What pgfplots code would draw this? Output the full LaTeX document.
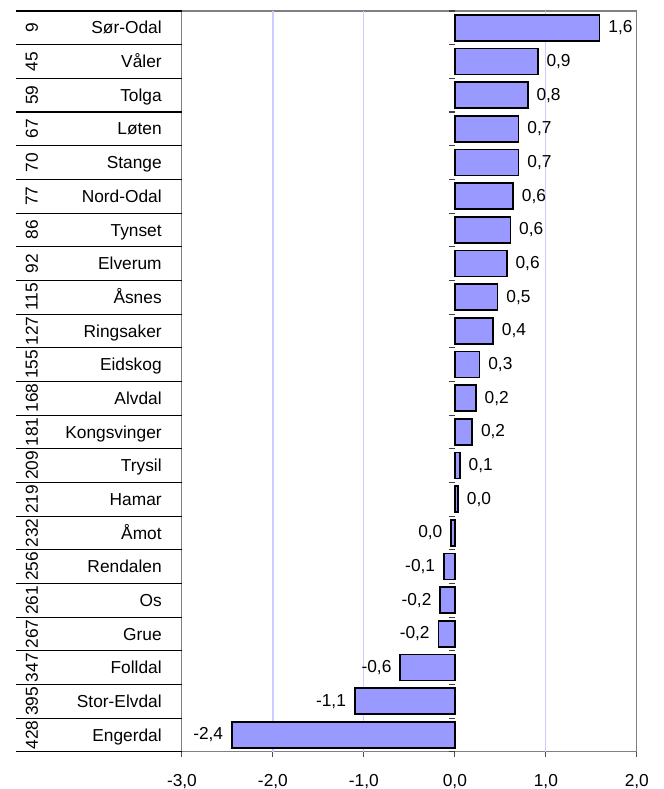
\documentclass[border=0pt]{standalone}
\usepackage{fontspec}
\setmainfont{Liberation Sans}
\usepackage{graphicx}
\usepackage{pgfplots}
\pgfplotsset{compat=1.18}
\usepackage{pgfplotstable}

\definecolor{barfill}{HTML}{9999FF}
\definecolor{gridlav}{HTML}{CCCCFF}
\definecolor{framegray}{HTML}{808080}
\newcommand{\chartfont}{\fontsize{13}{15}\selectfont}
% rank number (rotated, centred in the row) + municipality name
\newcommand{\rowlab}[2]{\makebox[102pt][l]{\raisebox{\dimexpr4.65pt-0.5\height\relax}{\rotatebox{90}{#1}}\hfill #2}}

% y = row (0 = top), x = change, lab = printed value
\pgfplotstableread{
y x lab
0 1.59 1,6
1 0.91 0,9
2 0.80 0,8
3 0.70 0,7
4 0.70 0,7
5 0.64 0,6
6 0.61 0,6
7 0.57 0,6
8 0.47 0,5
9 0.42 0,4
10 0.27 0,3
11 0.23 0,2
12 0.19 0,2
13 0.055 0,1
14 0.035 0,0
}\pos
\pgfplotstableread{
y x lab
15 -0.04 0,0
16 -0.12 -0,1
17 -0.16 -0,2
18 -0.18 -0,2
19 -0.60 -0,6
20 -1.10 -1,1
21 -2.45 -2,4
}\neg

\begin{document}
\begin{tikzpicture}
\begin{axis}[
  scale only axis,
  width=341.25pt, height=555.75pt,
  xmin=-3, xmax=2, ymin=-0.5, ymax=21.5,
  y dir=reverse,
  xbar, bar width=19.5pt, bar shift=0pt,
  clip=false,
  font=\chartfont,
  axis line style={framegray, line width=0.8pt},
  xtick={-3,-2,-1,0,1,2},
  xtick pos=bottom, tick align=outside,
  major tick length=3.75pt,
  x tick style={framegray!60!black, line width=0.8pt},
  xticklabel style={anchor=base, inner sep=0pt, yshift=-22.5pt, font=\chartfont,
    /pgf/number format/.cd, fixed, fixed zerofill, precision=1, use comma, assume math mode=true},
  extra x ticks={-2,-1,1},
  extra x tick labels={},
  extra x tick style={grid=major, major tick length=0pt},
  grid style={gridlav, line width=0.9pt},
  ytick={0,...,21},
  ytick pos=left,
  major y tick style={draw=none},
  yticklabels={
    {\rowlab{9}{Sør-Odal}},{\rowlab{45}{Våler}},{\rowlab{59}{Tolga}},
    {\rowlab{67}{Løten}},{\rowlab{70}{Stange}},{\rowlab{77}{Nord-Odal}},
    {\rowlab{86}{Tynset}},{\rowlab{92}{Elverum}},{\rowlab{115}{Åsnes}},
    {\rowlab{127}{Ringsaker}},{\rowlab{155}{Eidskog}},{\rowlab{168}{Alvdal}},
    {\rowlab{181}{Kongsvinger}},{\rowlab{209}{Trysil}},{\rowlab{219}{Hamar}},
    {\rowlab{232}{Åmot}},{\rowlab{256}{Rendalen}},{\rowlab{261}{Os}},
    {\rowlab{267}{Grue}},{\rowlab{347}{Folldal}},{\rowlab{395}{Stor-Elvdal}},
    {\rowlab{428}{Engerdal}}},
  yticklabel style={anchor=base east, inner sep=0pt, xshift=-11.25pt, yshift=-4.6pt, font=\chartfont},
]
\addplot[fill=barfill, draw=black, line width=1.3pt,
  nodes near coords, point meta=explicit symbolic,
  every node near coord/.append style={anchor=west, inner sep=0pt, xshift=6pt, font=\chartfont}]
  table[x=x, y=y, meta=lab] {\pos};
\addplot[fill=barfill, draw=black, line width=1.3pt,
  nodes near coords, point meta=explicit symbolic,
  every node near coord/.append style={anchor=east, inner sep=0pt, xshift=-6pt, font=\chartfont}]
  table[x=x, y=y, meta=lab] {\neg};
% row rules of the label table and ticks on the zero line
\pgfplotsinvokeforeach{-0.5,0.5,...,21.5}{
  \draw[black, line width=0.8pt] ([xshift=-124.5pt]axis cs:-3,#1) -- (axis cs:-3,#1);
  \draw[black!75, line width=0.8pt] ([xshift=-4.5pt]axis cs:0,#1) -- (axis cs:0,#1);
}
\end{axis}
\path ([shift={(-136.5pt,-27.75pt)}]current axis.south west)
  rectangle ([shift={(20.25pt,8.25pt)}]current axis.north east);
\end{tikzpicture}
\end{document}
